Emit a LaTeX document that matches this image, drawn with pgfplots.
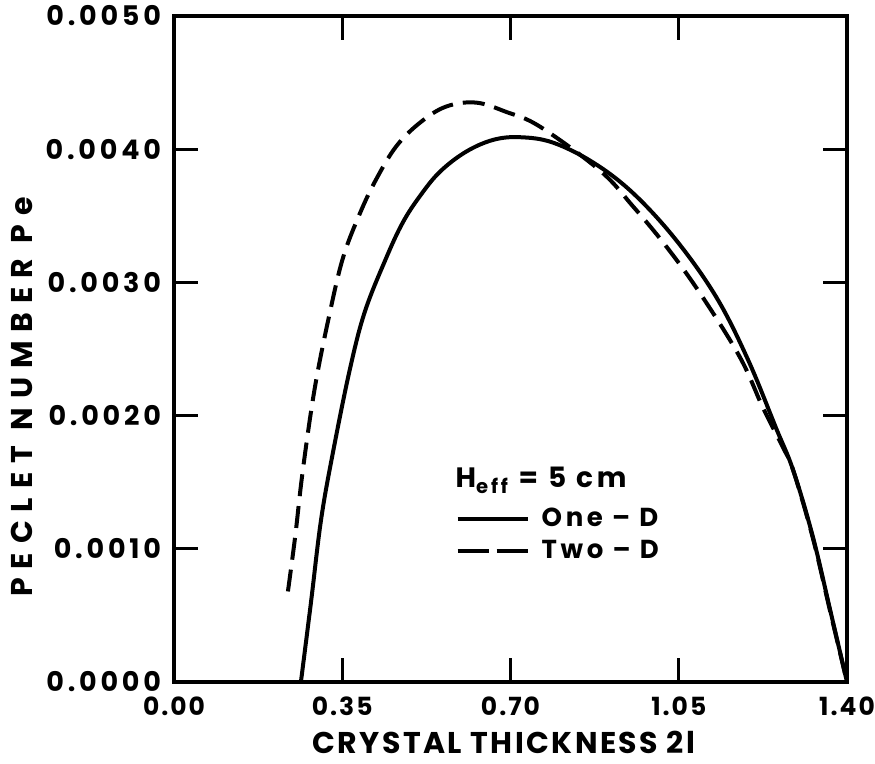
\documentclass[border=0pt]{standalone}
\usepackage{fontspec}
\setmainfont{Poppins}[LetterSpace=14]
\usepackage{pgfplots}
\pgfplotsset{compat=1.18}
\begin{document}
\begin{tikzpicture}
\begin{axis}[
  scale only axis,
  width=336.5pt, height=333pt,
  xmin=0, xmax=1.40, ymin=0, ymax=0.005,
  xtick={0,0.35,0.70,1.05,1.40},
  xticklabels={0.00,0.35,0.70,1.05,1.40},
  ytick={0,0.001,0.002,0.003,0.004,0.005},
  yticklabels={0.0000,0.0010,0.0020,0.0030,0.0040,0.0050},
  scaled y ticks=false,
  tick align=inside,
  major tick length=12pt,
  axis line style={line width=1.6pt},
  every tick/.style={line width=1.4pt, black},
  xticklabel style={font=\bfseries\fontsize{12.5}{12.5}\selectfont\addfontfeature{LetterSpace=8}, yshift=-4pt},
  yticklabel style={font=\bfseries\fontsize{13.5}{13.5}\selectfont, xshift=-3pt},
  xlabel={CRYSTAL THICKNESS 2l},
  ylabel={PECLET NUMBER Pe},
  xlabel style={font=\bfseries\fontsize{15}{15}\selectfont\addfontfeature{LetterSpace=8}, at={(rel axis cs:0.49,0)}, anchor=center, yshift=-30pt},
  ylabel style={font=\bfseries\fontsize{15}{15}\selectfont\addfontfeature{LetterSpace=30},
    at={(rel axis cs:0,0.428)}, anchor=center, yshift=76pt},
  legend style={draw=none, fill=none, at={(rel axis cs:0.418,0.268)}, anchor=north west,
    font=\bfseries\fontsize{13}{13}\selectfont, inner sep=0pt, row sep=1.5pt,
    nodes={inner sep=2pt}},
  legend cell align=left,
  legend image code/.code={\draw[#1] (0pt,0pt) -- (35pt,0pt);},
]
\addlegendimage{black, line width=2pt}
\addlegendentry{\hspace{4pt}One -- D}
\addlegendimage{black, line width=2pt, dash pattern=on 15.5pt off 4pt}
\addlegendentry{\hspace{4pt}Two -- D}
\addplot[black, line width=2pt, smooth, tension=0.6, forget plot] coordinates {
(0.264,0) (0.285,0.00060) (0.306,0.00122) (0.331,0.00173) (0.366,0.00235)
(0.397,0.00278) (0.441,0.00318) (0.476,0.00345) (0.512,0.00365) (0.553,0.00383)
(0.607,0.00398) (0.664,0.00407) (0.720,0.00409) (0.788,0.00405) (0.872,0.00390)
(0.955,0.00367) (1.044,0.00332) (1.128,0.00289) (1.194,0.00242) (1.252,0.00191)
(1.288,0.00159) (1.329,0.00109) (1.365,0.00054) (1.400,0)
};
\addplot[black, line width=2pt, smooth, tension=0.6, dash pattern=on 11pt off 5pt, forget plot] coordinates {
(0.237,0.00068) (0.252,0.00109) (0.268,0.00159) (0.293,0.00221)
(0.324,0.00277) (0.352,0.00319) (0.387,0.00352) (0.420,0.00377) (0.462,0.00402)
(0.512,0.00420) (0.566,0.00432) (0.628,0.00435) (0.691,0.00428) (0.761,0.00417)
(0.886,0.00384) (0.955,0.00357) (1.024,0.00327) (1.094,0.00292) (1.177,0.00244)
(1.225,0.00206) (1.267,0.00176) (1.288,0.00159) (1.329,0.00108) (1.365,0.00053) (1.400,0)
};
\node[anchor=west, font=\bfseries\fontsize{14}{14}\selectfont, inner sep=0pt] at (rel axis cs:0.418,0.303)
  {H\textsubscript{eff} = 5 cm};
\end{axis}
\pgfresetboundingbox
\path[use as bounding box] ([xshift=-87pt,yshift=-40.5pt]current axis.south west)
  rectangle ([xshift=14pt,yshift=8pt]current axis.north east);
\end{tikzpicture}
\end{document}
